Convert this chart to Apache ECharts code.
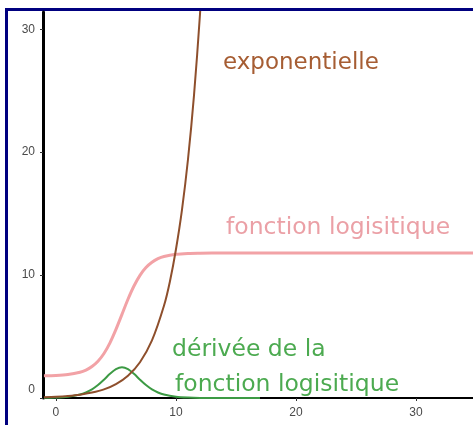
<!DOCTYPE html>
<html>
<head>
<meta charset="utf-8">
<script src="https://cdn.jsdelivr.net/npm/echarts@6/dist/echarts.min.js"></script>
<style>
html,body{margin:0;padding:0;background:#fff;}
#wrap{position:relative;width:473px;height:425px;overflow:hidden;background:#fff;}
#frame{position:absolute;left:5px;top:8px;width:600px;height:600px;border-top:3px solid #00007f;border-left:3px solid #00007f;box-sizing:border-box;}
#chart{position:absolute;left:0;top:0;width:473px;height:425px;}
</style>
</head>
<body>
<div id="wrap"><div id="frame"></div><div id="chart"></div></div>
<script>
// Tick labels
const xTicks = [0, 10, 20, 30];
const yTicks = [0, 10, 20, 30];

// Logistic function
const logX = [-1, 0, 1, 2, 2.5, 3, 3.5, 4, 4.5, 5, 5.5, 6, 6.5, 7, 7.5, 8, 8.5, 9, 10, 11, 12, 14, 17, 20, 25, 30, 35];
const logY = [1.82, 1.84, 1.91, 2.09, 2.27, 2.56, 2.99, 3.62, 4.49, 5.58, 6.8, 8.03, 9.11, 9.98, 10.61, 11.04, 11.33, 11.51, 11.69, 11.76, 11.78, 11.8, 11.8, 11.8, 11.8, 11.8, 11.8];

// Derivative of the logistic function
const derX = [-1, 0, 1, 2, 2.5, 3, 3.5, 4, 4.5, 5, 5.5, 6, 6.5, 7, 7.5, 8, 8.5, 9, 10, 11, 12, 14, 17];
const derY = [0.02, 0.04, 0.11, 0.28, 0.45, 0.70, 1.05, 1.49, 1.97, 2.35, 2.5, 2.35, 1.97, 1.49, 1.05, 0.70, 0.45, 0.28, 0.11, 0.04, 0.01, 0, 0];

// Exponential
const expX = [-1, 0, 1, 2, 3, 4, 5, 6, 7, 8, 9, 9.5, 10, 10.5, 11, 11.5, 12, 12.5];
const expY = [0.065, 0.105, 0.17, 0.27, 0.44, 0.70, 1.13, 1.81, 2.91, 4.68, 7.5, 9.5, 12.1, 15.3, 19.4, 24.6, 31.2, 39.4];

const zip = (xs, ys) => xs.map((x, i) => [x, ys[i]]);

const chart = echarts.init(document.getElementById('chart'), null, {renderer: 'canvas'});
const labelFont = {color: '#4a4a4a', fontSize: 12, fontFamily: 'Liberation Sans, Arial, sans-serif'};
chart.setOption({
  animation: false,
  backgroundColor: 'transparent',
  grid: {left: 43, top: 12, right: 0, bottom: 27, containLabel: false},
  xAxis: {
    type: 'value', min: -1.08, max: 34.75,
    splitLine: {show: false},
    axisLine: {show: true, onZero: false, lineStyle: {color: '#000', width: 2}},
    axisTick: {show: true, length: 3, lineStyle: {color: '#333', width: 1}, customValues: xTicks},
    axisLabel: Object.assign({margin: 9, customValues: xTicks}, labelFont)
  },
  yAxis: {
    type: 'value', min: 0, max: 31.4,
    splitLine: {show: false},
    axisLine: {show: true, onZero: false, lineStyle: {color: '#000', width: 3}},
    axisTick: {show: true, length: 3, lineStyle: {color: '#333', width: 1}, customValues: yTicks},
    axisLabel: Object.assign({margin: 8, customValues: yTicks,
      formatter: v => v === 0 ? '{z|0}' : String(v),
      rich: {z: {padding: [0, 0, 16, 0], color: '#4a4a4a', fontSize: 12, fontFamily: 'Liberation Sans, Arial, sans-serif'}}
    }, labelFont)
  },
  series: [
    {type: 'line', data: zip(logX, logY), smooth: 0.3, showSymbol: false, clip: true,
     lineStyle: {color: '#f2a2a6', width: 3}},
    {type: 'line', data: zip(derX, derY), smooth: 0.3, showSymbol: false, clip: true,
     lineStyle: {color: '#3c9a44', width: 2}},
    {type: 'line', data: zip(expX, expY), smooth: 0.3, showSymbol: false, clip: true,
     lineStyle: {color: '#8e4f2c', width: 2}}
  ],
  graphic: [
    {type: 'text', left: 223, top: 52, style: {text: 'exponentielle', fill: '#a65d33', font: '23px "DejaVu Sans"'}},
    {type: 'text', left: 226, top: 216, style: {text: 'fonction logisitique', fill: '#eba0a6', font: '23.5px "DejaVu Sans"'}},
    {type: 'text', left: 172, top: 338, style: {text: 'dérivée de la', fill: '#4caa50', font: '23.5px "DejaVu Sans"'}},
    {type: 'text', left: 175, top: 373, style: {text: 'fonction logisitique', fill: '#4caa50', font: '23.5px "DejaVu Sans"'}}
  ]
});
</script>
</body>
</html>
